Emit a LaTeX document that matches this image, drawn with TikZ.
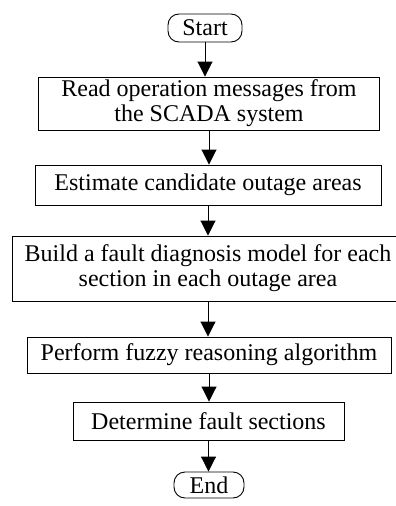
\documentclass[tikz,border=0pt]{standalone}
\usepackage{fontspec}
\setmainfont{Liberation Serif}
\usetikzlibrary{arrows.meta}
\tikzset{
    stepbox/.style={draw=black, line width=0.9pt, align=center, inner sep=0pt},
    terminal/.style={draw=black, line width=0.9pt, rounded corners=11pt, inner sep=0pt},
    flowarrow/.style={line width=0.9pt, -{Triangle[length=15pt,width=15pt]}}
}
\begin{document}
\begin{tikzpicture}[x=1pt, y=-1pt, font=\fontsize{24}{25}\selectfont]
    \useasboundingbox (0,0) rectangle (396,506);

    \node[terminal, minimum width=74pt, minimum height=28pt] (start) at (205,28) {Start};
    \node[stepbox, minimum width=341pt, minimum height=53pt] (read) at (209,103.5) {Read operation messages from\\the SCADA system};
    \node[stepbox, minimum width=346pt, minimum height=40pt] (estimate) at (208,185) {Estimate candidate outage areas};
    \node[stepbox, minimum width=392pt, minimum height=65pt] (build) at (208,268.5) {Build a fault diagnosis model for each\\section in each outage area};
    \node[stepbox, minimum width=364pt, minimum height=36pt] (perform) at (209,355) {Perform fuzzy reasoning algorithm};
    \node[stepbox, minimum width=271pt, minimum height=38pt] (determine) at (208.5,421) {Determine fault sections};
    \node[terminal, minimum width=70pt, minimum height=26pt] (end) at (209,485) {End};

    \draw[flowarrow] (start) -- (start |- read.north);
    \draw[flowarrow] (read) -- (read |- estimate.north);
    \draw[flowarrow] (estimate) -- (estimate |- build.north);
    \draw[flowarrow] (build) -- (build |- perform.north);
    \draw[flowarrow] (perform) -- (perform |- determine.north);
    \draw[flowarrow] (determine) -- (determine |- end.north);
\end{tikzpicture}
\end{document}
